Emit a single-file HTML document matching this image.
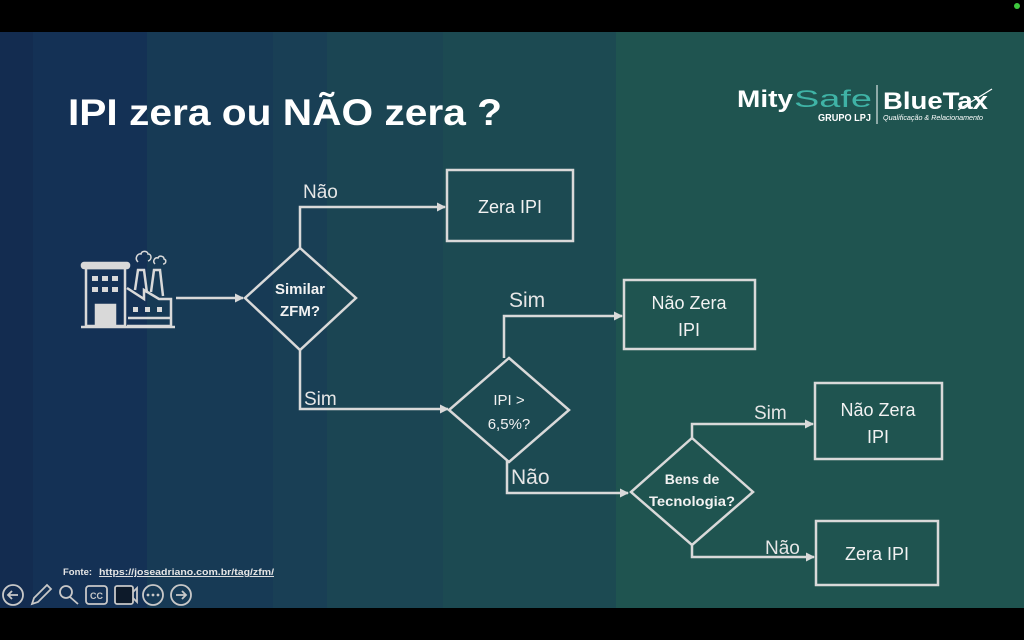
<!DOCTYPE html>
<html><head><meta charset="utf-8"><style>
html,body{margin:0;padding:0;background:#000;}
svg{display:block;}
</style></head><body>
<svg width="1024" height="640" viewBox="0 0 1024 640" xmlns="http://www.w3.org/2000/svg" font-family="'Liberation Sans', sans-serif">
<rect width="1024" height="640" fill="#000"/>
<rect x="0" y="32" width="33" height="576" fill="#132c50"/>
<rect x="33" y="32" width="114" height="576" fill="#143155"/>
<rect x="147" y="32" width="126" height="576" fill="#173a55"/>
<rect x="273" y="32" width="54" height="576" fill="#193f55"/>
<rect x="327" y="32" width="116" height="576" fill="#1b4553"/>
<rect x="443" y="32" width="173" height="576" fill="#1c4a52"/>
<rect x="616" y="32" width="408" height="576" fill="#1f5450"/>
<circle cx="1017" cy="6" r="3" fill="#3ec83e"/>

<text x="68" y="125" font-size="37" font-weight="bold" fill="#fff" textLength="434" lengthAdjust="spacingAndGlyphs">IPI zera ou NÃO zera ?</text>

<!-- logo -->
<text x="737" y="107" font-size="24" font-weight="bold" fill="#fff" textLength="56" lengthAdjust="spacingAndGlyphs">Mity</text>
<text x="794" y="107" font-size="24" fill="#3fb3a6" textLength="78" lengthAdjust="spacingAndGlyphs">Safe</text>
<text x="818" y="121" font-size="10" font-weight="bold" fill="#fff" textLength="53" lengthAdjust="spacingAndGlyphs">GRUPO LPJ</text>
<line x1="877" y1="85" x2="877" y2="124" stroke="#fff" stroke-width="1"/>
<text x="883" y="109" font-size="24" font-weight="bold" fill="#fff" textLength="105" lengthAdjust="spacingAndGlyphs">BlueTax</text>
<line x1="958" y1="110" x2="992" y2="89" stroke="#fff" stroke-width="1.2"/>
<text x="883" y="120" font-size="7" font-style="italic" fill="#fff" textLength="100" lengthAdjust="spacingAndGlyphs">Qualificação &amp; Relacionamento</text>

<defs><marker id="a" markerWidth="9" markerHeight="9" refX="8" refY="4.5" orient="auto" markerUnits="userSpaceOnUse"><path d="M0,0 L9,4.5 L0,9 z" fill="#d9d9d9"/></marker></defs>

<g stroke="#d9d9d9" stroke-width="2.5" fill="none">
<!-- factory -->
<rect x="82" y="263" width="47" height="5" rx="2" fill="#d9d9d9"/>
<rect x="86" y="268" width="39" height="58"/>
<rect x="96" y="305" width="19" height="21" fill="#d9d9d9"/>
<path d="M135,290 L138,270 L144,270 L147,293" />
<path d="M151,292 L154,270 L160,270 L163,296" />
<path d="M127,288 L144,299 V290 L159,299 L171,299 V326 H127" />
<line x1="128" y1="318" x2="171" y2="318"/>
<line x1="81" y1="327" x2="175" y2="327"/>
<path d="M138,262 c-4,-4 0,-9 3,-8 c1,-4 7,-3 7,0 c4,0 4,6 0,7" stroke-width="1.5"/>
<path d="M155,264 c-3,-3 0,-7 3,-6 c1,-3 6,-2 6,1 c3,1 2,5 -1,5" stroke-width="1.5"/>
<!-- connectors -->
<line x1="176" y1="298" x2="243" y2="298" marker-end="url(#a)"/>
<polyline points="300,248 300,207 445,207" marker-end="url(#a)"/>
<polyline points="300,350 300,409 448,409" marker-end="url(#a)"/>
<polyline points="504,358 504,316 622,316" marker-end="url(#a)"/>
<polyline points="507,461 507,493 628,493" marker-end="url(#a)"/>
<polyline points="692,438 692,424 813,424" marker-end="url(#a)"/>
<polyline points="692,545 692,557 814,557" marker-end="url(#a)"/>
<!-- shapes -->
<polygon points="300,248 356,298 300,350 245,298"/>
<polygon points="509,358 569,410 509,462 449,410"/>
<polygon points="692,438 753,492 692,545 631,492"/>
<rect x="447" y="170" width="126" height="71"/>
<rect x="624" y="280" width="131" height="69"/>
<rect x="815" y="383" width="127" height="76"/>
<rect x="816" y="521" width="122" height="64"/>
</g>
<g fill="#d9d9d9">
<rect x="92" y="276" width="6" height="5"/><rect x="102" y="276" width="6" height="5"/><rect x="112" y="276" width="6" height="5"/>
<rect x="92" y="287" width="6" height="5"/><rect x="102" y="287" width="6" height="5"/><rect x="112" y="287" width="6" height="5"/>
<rect x="133" y="307" width="5" height="5"/><rect x="145" y="307" width="5" height="5"/><rect x="157" y="307" width="5" height="5"/>
</g>

<g fill="#f2f2f2" text-anchor="middle">
<text x="300" y="294" font-size="15" font-weight="bold">Similar</text>
<text x="300" y="316" font-size="15" font-weight="bold">ZFM?</text>
<text x="509" y="405" font-size="15">IPI &gt;</text>
<text x="509" y="429" font-size="15">6,5%?</text>
<text x="692" y="484" font-size="14" font-weight="bold">Bens de</text>
<text x="692" y="506" font-size="14" font-weight="bold" textLength="86" lengthAdjust="spacingAndGlyphs">Tecnologia?</text>
<text x="510" y="213" font-size="18">Zera IPI</text>
<text x="689" y="309" font-size="18">Não Zera</text>
<text x="689" y="336" font-size="18">IPI</text>
<text x="878" y="416" font-size="18">Não Zera</text>
<text x="878" y="443" font-size="18">IPI</text>
<text x="877" y="560" font-size="18">Zera IPI</text>
</g>
<g fill="#e6e6e6">
<text x="303" y="198" font-size="19">Não</text>
<text x="304" y="405" font-size="19">Sim</text>
<text x="509" y="307" font-size="21">Sim</text>
<text x="511" y="484" font-size="21">Não</text>
<text x="754" y="419" font-size="19">Sim</text>
<text x="765" y="554" font-size="19">Não</text>
</g>

<text x="63" y="575" font-size="9.5" font-weight="bold" fill="#e6e6e6">Fonte:</text>
<text x="99" y="575" font-size="9.5" font-weight="bold" fill="#e6e6e6" text-decoration="underline" textLength="175" lengthAdjust="spacingAndGlyphs">https://joseadriano.com.br/tag/zfm/</text>

<!-- toolbar -->
<g stroke="#c8c8c8" stroke-width="1.8" fill="none">
<circle cx="13" cy="595" r="10"/><path d="M18,595 H8 M12,591 L8,595 L12,599"/>
<path d="M32,604 L34,598 L47,585 L51,589 L38,602 Z"/>
<circle cx="66" cy="592" r="6"/><line x1="70" y1="597" x2="78" y2="604"/>
<rect x="86" y="586" width="21" height="18" rx="3"/>
<rect x="115" y="586" width="18" height="18" rx="2" fill="#0d1a2a"/><path d="M133,592 L137,588 V602 L133,598"/>
<circle cx="153" cy="595" r="10"/>
<circle cx="181" cy="595" r="10"/><path d="M176,595 H186 M182,591 L186,595 L182,599"/>
</g>
<text x="96.5" y="599" font-size="9" font-weight="bold" fill="#c8c8c8" text-anchor="middle">CC</text>
<g fill="#c8c8c8"><circle cx="148" cy="595" r="1.4"/><circle cx="153" cy="595" r="1.4"/><circle cx="158" cy="595" r="1.4"/></g>
</svg>
</body></html>
